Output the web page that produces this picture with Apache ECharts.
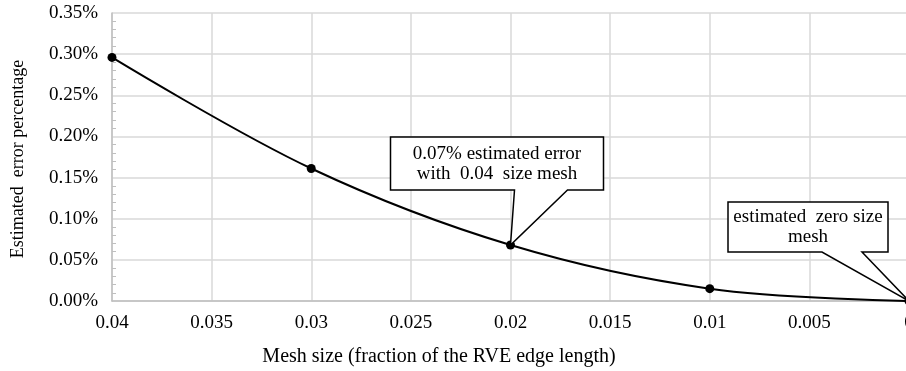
<!DOCTYPE html>
<html>
<head>
<meta charset="utf-8">
<script src="https://cdn.jsdelivr.net/npm/echarts@6/dist/echarts.min.js"></script>
<style>
  html, body { margin: 0; padding: 0; background: #fff; }
  #chart { width: 906px; height: 371px; }
</style>
</head>
<body>
<div id="chart"></div>
<script>
// Mesh convergence study: estimated error vs. mesh size
const meshSizes = [0.04, 0.03, 0.02, 0.01, 0];
const errorPct = [0.296, 0.161, 0.068, 0.015, 0.0];

const yTicks = { min: 0, max: 0.35, step: 0.05 };
const xTicks = { min: 0, max: 0.04, step: 0.005 };

const xTitle = 'Mesh size (fraction of the RVE edge length)';
const yTitle = 'Estimated  error percentage';

// Callouts: [mesh size, error %, lines of text]
const callouts = [
  { x: 0.02, y: 0.068, text: ['0.07% estimated error', 'with  0.04  size mesh'],
    box: { l: -120, r: 93, t: -108, b: -55 }, tail: [4, 57] },
  { x: 0, y: 0.0, text: ['estimated  zero size', 'mesh'],
    box: { l: -181, r: -21, t: -99, b: -49 }, tail: [-87, -47] }
];

const FONT = '"Liberation Serif", "Times New Roman", serif';
const FS = 19;
const chart = echarts.init(document.getElementById('chart'), null, { renderer: 'canvas' });

chart.setOption({
  animation: false,
  backgroundColor: '#fff',
  grid: { left: 112, right: -3, top: 13, bottom: 70, containLabel: false, outerBoundsMode: 'none' },
  xAxis: {
    type: 'value',
    inverse: true,
    min: xTicks.min, max: xTicks.max, interval: xTicks.step,
    axisLine: { show: true, onZero: false, lineStyle: { color: '#bfbfbf', width: 1.5 } },
    axisTick: { show: false },
    splitLine: { show: true, lineStyle: { color: '#d9d9d9', width: 1.5 } },
    axisLabel: {
      color: '#000', fontFamily: FONT, fontSize: FS, margin: 13,
      formatter: v => String(+v.toFixed(3))
    }
  },
  yAxis: {
    type: 'value',
    min: yTicks.min, max: yTicks.max, interval: yTicks.step,
    axisLine: { show: true, onZero: false, lineStyle: { color: '#bfbfbf', width: 1.5 } },
    axisTick: { show: false, inside: true },
    minorTick: { show: true, splitNumber: 5, length: 4, lineStyle: { color: '#bfbfbf', width: 1 } },
    splitLine: { show: true, lineStyle: { color: '#d9d9d9', width: 1.5 } },
    axisLabel: {
      color: '#000', fontFamily: FONT, fontSize: FS, margin: 14,
      formatter: v => v.toFixed(2) + '%'
    }
  },
  series: [{
    type: 'line',
    data: meshSizes.map((m, i) => [m, errorPct[i]]),
    smooth: 0.35,
    symbol: 'circle',
    symbolSize: 9,
    itemStyle: { color: '#000' },
    lineStyle: { color: '#000', width: 2 },
    z: 5
  }]
});

const graphics = [
  {
    type: 'text', x: 439, y: 357,
    style: { text: xTitle, font: '20px ' + FONT, fill: '#000', align: 'center', verticalAlign: 'middle' }
  },
  {
    type: 'text', rotation: Math.PI / 2, x: 18, y: 159,
    style: { text: yTitle, font: '18px ' + FONT, fill: '#000', align: 'center', verticalAlign: 'middle' }
  }
];

callouts.forEach(c => {
  const p = chart.convertToPixel({ gridIndex: 0 }, [c.x, c.y]);
  const tx = p[0], ty = p[1];
  const L = tx + c.box.l, R = tx + c.box.r, T = ty + c.box.t, B = ty + c.box.b;
  const a = tx + c.tail[0], b = tx + c.tail[1];
  graphics.push({
    type: 'polygon', z: 10,
    shape: { points: [[L, T], [R, T], [R, B], [b, B], [tx, ty], [a, B], [L, B]] },
    style: { fill: '#fff', stroke: '#000', lineWidth: 1.5 }
  });
  const cx = (L + R) / 2, cy = (T + B) / 2;
  graphics.push({
    type: 'text', z: 11, x: cx, y: cy,
    style: {
      text: c.text.join('\n'), font: FS + 'px ' + FONT, fill: '#000',
      align: 'center', verticalAlign: 'middle', lineHeight: 20
    }
  });
});

chart.setOption({ graphic: graphics });
</script>
</body>
</html>
